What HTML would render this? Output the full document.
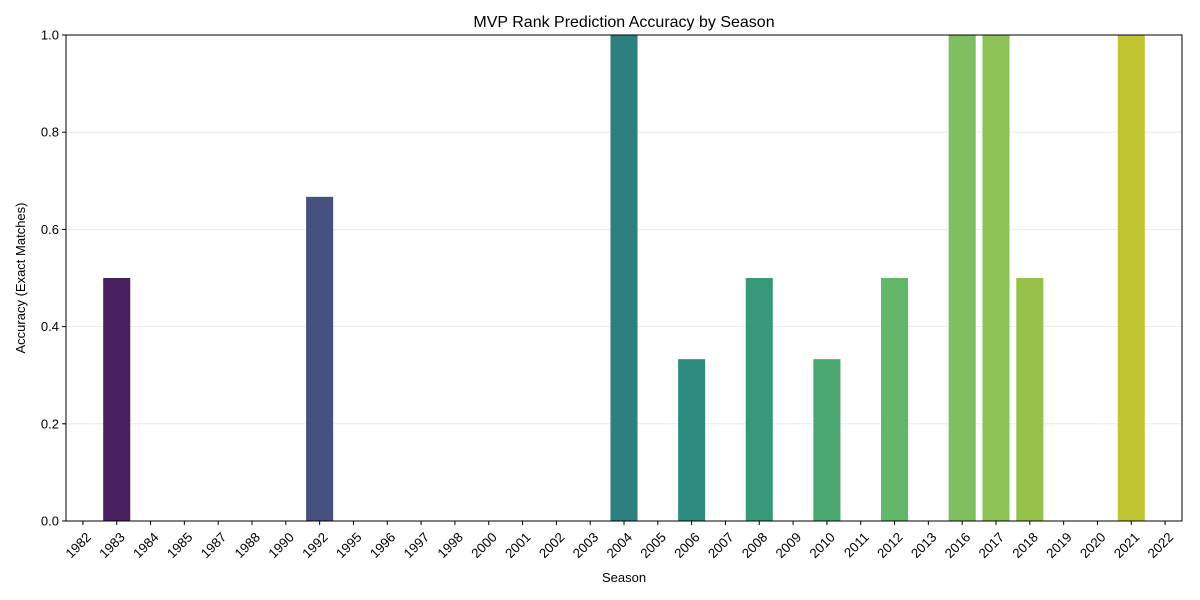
<!DOCTYPE html>
<html><head><meta charset="utf-8"><style>
body{margin:0;background:#fff;}
svg{display:block;font-family:"Liberation Sans","DejaVu Sans",sans-serif;}
</style></head><body>
<svg id="chart" width="1200" height="600" xmlns="http://www.w3.org/2000/svg">
<text x="624" y="27" text-anchor="middle" font-size="16">MVP Rank Prediction Accuracy by Season</text>
<text transform="translate(25,278) rotate(-90)" text-anchor="middle" font-size="13">Accuracy (Exact Matches)</text>
<text x="624" y="582" text-anchor="middle" font-size="13">Season</text>
<g id="grid"></g><g id="bars"></g><g id="xt"></g><g id="yt"></g>
<rect x="66" y="35" width="1116" height="486" fill="none" stroke="#000" stroke-width="1"/>
</svg>
<script>
const seasons=["1982","1983","1984","1985","1987","1988","1990","1992","1995","1996","1997","1998","2000","2001","2002","2003","2004","2005","2006","2007","2008","2009","2010","2011","2012","2013","2016","2017","2018","2019","2020","2021","2022"];
const accuracy=[0,0.5,0,0,0,0,0,0.667,0,0,0,0,0,0,0,0,1,0,0.333,0,0.5,0,0.333,0,0.5,0,1,1,0.5,0,0,1,0];
const barColors=["#440154","#482060","#472a6a","#45357a","#423f80","#3e4a87","#3a548a","#46507e","#35608d","#31688e","#2e6f8e","#2b768e","#287d8e","#25838e","#228a8d","#1f918c","#2e8080","#25a085","#2e8c7e","#35b779","#38997a","#4ac16d","#4aa870","#6ccd5a","#63b76a","#84d44b","#7fbf5f","#8cc256","#97c24a","#c5e021","#dde318","#bfc632","#fde725"];
const yTicks=[0,0.2,0.4,0.6,0.8,1.0];
const NS="http://www.w3.org/2000/svg";
const L=66,R=1182,T=35,B=521;
const xs=i=>L+(i+0.5)*(R-L)/seasons.length;
const ys=v=>B-v*(B-T);
function mk(tag,attrs,parent){const e=document.createElementNS(NS,tag);for(const k in attrs)e.setAttribute(k,attrs[k]);parent.appendChild(e);return e;}
const g=document.getElementById('grid'),bg=document.getElementById('bars'),xt=document.getElementById('xt'),yt=document.getElementById('yt');
const bw=0.8*(R-L)/seasons.length;
yTicks.forEach(v=>{
 const ln=mk('line',{x1:L,x2:R,y1:ys(v),y2:ys(v),stroke:'#e6e6e6','stroke-width':0.8},g);
 
 
 const tk=mk('line',{x1:L-4,x2:L,y1:ys(v),y2:ys(v),stroke:'#000'},yt);
 
 
 const t=mk('text',{x:L-7,y:ys(v)+4.5,'text-anchor':'end','font-size':13},yt);
 t.textContent=v.toFixed(1);
 
 
});
seasons.forEach((s,i)=>{
 const v=accuracy[i];
 const r=mk('rect',{x:xs(i)-bw/2,y:ys(v),width:bw,height:B-ys(v),fill:barColors[i]},bg);
 
 
 const tk=mk('line',{x1:xs(i),x2:xs(i),y1:B,y2:B+4,stroke:'#000'},xt);
 
 
 const t=mk('text',{transform:`translate(${xs(i)+9},${B+17}) rotate(-45)`,'text-anchor':'end','font-size':13.3},xt);
 t.textContent=s;
 
 
});
</script>
</body></html>
